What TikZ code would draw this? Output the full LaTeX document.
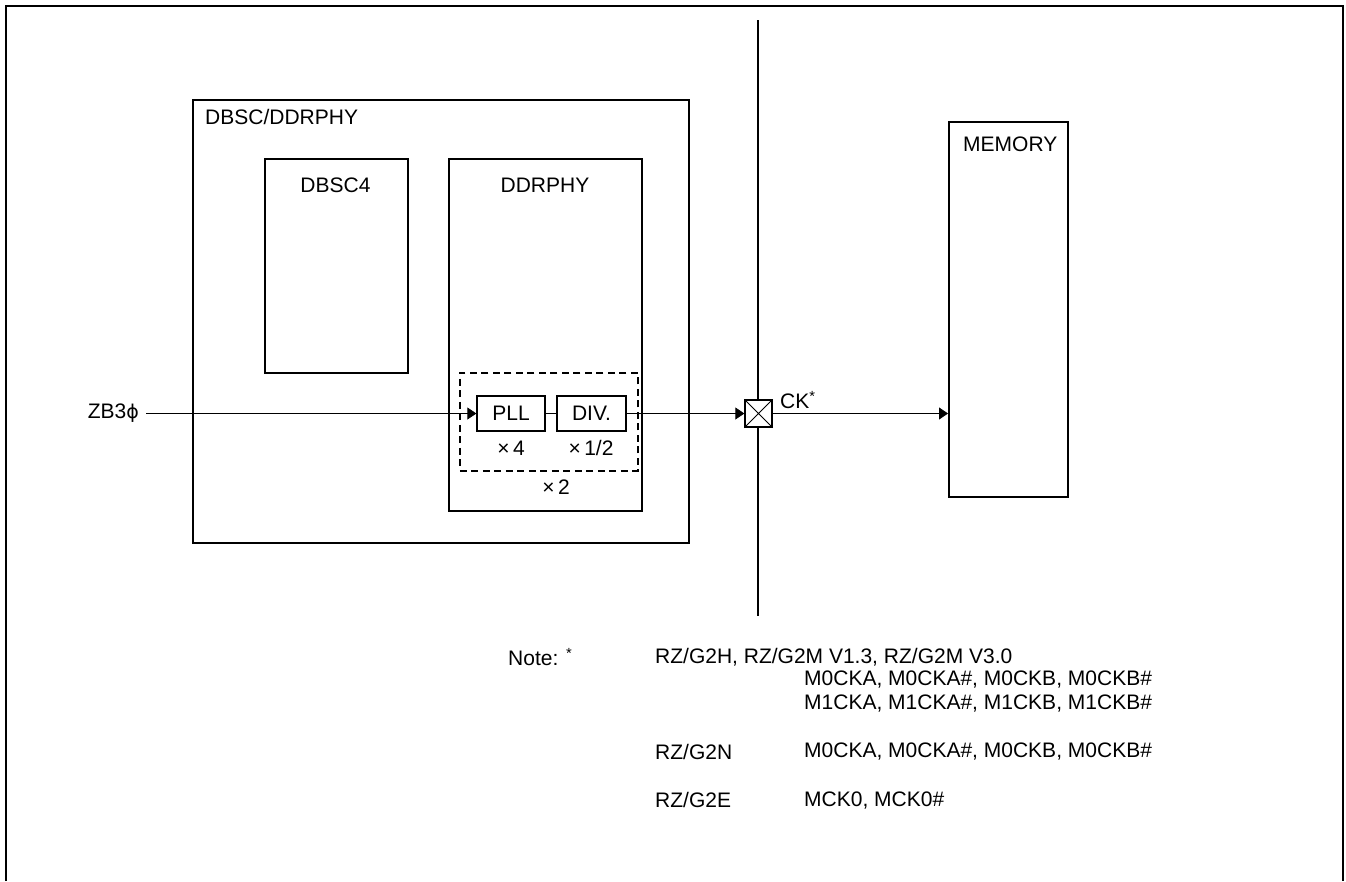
\documentclass[tikz,border=0pt]{standalone}
\usepackage{fontspec}
\setmainfont{Liberation Sans}
\newfontfamily\djfont{DejaVu Sans}
\usetikzlibrary{arrows.meta}
\begin{document}
\begin{tikzpicture}[x=1pt,y=-1pt,
  font=\fontsize{21}{24}\selectfont,
  box/.style={draw,line width=1.8pt,anchor=north west,inner sep=0pt},
  sbox/.style={draw,line width=1.3pt,inner sep=0pt,minimum width=68pt,minimum height=35pt},
  sig/.style={line width=0.8pt},
  arr/.style={sig,-{Triangle[length=9pt,width=12pt]}},
  txt/.style={inner sep=0pt,anchor=west}]
\useasboundingbox (0,0) rectangle (1346,881);
% outer frame (open at bottom)
\draw[line width=2pt] (6,881) -- (6,6) -- (1343,6) -- (1343,881);
% boxes
\node[box,minimum width=496pt,minimum height=443pt] (dbsc) at (192,99) {};
\node[txt] (dbsclbl) at (205,117) {DBSC/DDRPHY};
\node[box,minimum width=143pt,minimum height=214pt] (dbsc4) at (264,158) {};
\node[inner sep=0pt] (dbsc4lbl) at (335.5,185) {DBSC4};
\node[box,minimum width=193pt,minimum height=352pt] (ddrphy) at (448,158) {};
\node[inner sep=0pt] (ddrphylbl) at (545,185) {DDRPHY};
\node[box,minimum width=119pt,minimum height=375pt] (mem) at (948,121) {};
\node[txt] (memlbl) at (963,144) {MEMORY};
% dashed group
\node[draw,dashed,dash pattern=on 7pt off 4.5pt,line width=1.6pt,anchor=north west,inner sep=0pt,minimum width=178pt,minimum height=98pt] (grp) at (459,372) {};
\node[sbox] (pll) at (511,413.5) {PLL};
\node[sbox,minimum width=69pt] (div) at (591.5,413.5) {DIV.};
\node[inner sep=0pt] (x4) at (511,448) {×\,4};
\node[inner sep=0pt] (x12) at (591,448) {×\,1/2};
\node[inner sep=0pt] (x2) at (556,487) {×\,2};
% boundary line and pin
\coordinate (vtop) at (758,20);
\coordinate (vbot) at (758,616);
\draw[line width=1.8pt] (vtop) -- (vbot);
\node[draw,fill=white,line width=1.3pt,minimum size=27pt,inner sep=0pt] (pin) at (758.5,413.5) {};
\draw[line width=1pt] (pin.north west) -- (pin.south east) (pin.north east) -- (pin.south west);
\node[txt] (ck) at (780,400) {CK\textsuperscript{*}};
% input
\node[inner sep=0pt,anchor=east] (zb) at (139,413.5) {ZB3{\djfont\fontsize{19}{22}\selectfont ϕ}};
\coordinate (zbs) at (146,413.5);
\draw[arr] (zbs) -- (pll.west);
\draw[sig] (pll.east) -- (div.west);
\draw[arr] (div.east) -- (pin.west);
\draw[arr] (pin.east) -- (mem.west |- pin.east);
% note
\node[txt] (note) at (508,657) {Note: \textsuperscript{*}};
\node[txt] (n1) at (655,657) {RZ/G2H, RZ/G2M V1.3, RZ/G2M V3.0};
\node[txt] (n2) at (804,680) {M0CKA, M0CKA\#, M0CKB, M0CKB\#};
\node[txt] (n3) at (804,704) {M1CKA, M1CKA\#, M1CKB, M1CKB\#};
\node[txt] (n4) at (655,752) {RZ/G2N};
\node[txt] (n5) at (804,752) {M0CKA, M0CKA\#, M0CKB, M0CKB\#};
\node[txt] (n6) at (655,800) {RZ/G2E};
\node[txt] (n7) at (804,800) {MCK0, MCK0\#};
\end{tikzpicture}
\end{document}
